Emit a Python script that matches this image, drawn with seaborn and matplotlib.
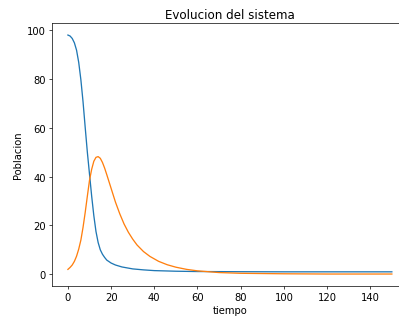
import matplotlib
matplotlib.use('Agg')
import matplotlib.pyplot as plt
import seaborn as sns
import pandas as pd

# valores
t_s = [0, 1, 2, 3, 4, 5, 6, 7, 8, 9, 10, 11, 12, 13, 14, 15, 16, 17, 18, 20,
       22, 25, 30, 35, 40, 50, 60, 80, 100, 150]
susceptibles = [98, 97.6, 96.6, 94.8, 91.8, 86.8, 79.7, 70.7, 60.2, 50, 41, 32, 24,
                17.5, 13, 10, 8.2, 6.9, 5.8, 4.6, 3.8, 3.0, 2.2, 1.8, 1.5, 1.25,
                1.12, 1.05, 1.0, 1.0]

t_i = [0, 1, 2, 3, 4, 5, 6, 7, 8, 9, 10, 11, 12, 13, 14, 15, 16, 17, 18, 19, 20,
       22, 24, 26, 28, 30, 32, 35, 38, 42, 46, 50, 55, 60, 70, 80, 100, 120, 150]
infectados = [2, 2.8, 3.8, 5.3, 7.4, 10.3, 14, 19.2, 25.3, 32, 38.5, 43, 46.3, 47.9,
              48.2, 47.5, 45.8, 43.5, 40.8, 38, 35.2, 29.6, 24.8, 20.6, 17.2, 14.4,
              12, 9.3, 7.3, 5.3, 3.9, 2.9, 2.0, 1.4, 0.7, 0.4, 0.2, 0.1, 0.1]

df_s = pd.DataFrame({'tiempo': t_s, 'Poblacion': susceptibles})
df_i = pd.DataFrame({'tiempo': t_i, 'Poblacion': infectados})

plt.rcParams['font.size'] = 11.5

fig = plt.figure(figsize=(6.4, 5.148), dpi=62.35)
ax = fig.add_axes([0.1296, 0.106, 0.893, 0.819])

sns.lineplot(data=df_s, x='tiempo', y='Poblacion', color='C0', ax=ax)
sns.lineplot(data=df_i, x='tiempo', y='Poblacion', color='C1', ax=ax)

ax.set_title('Evolucion del sistema')
ax.set_xlabel('tiempo')
ax.set_ylabel('Poblacion')

fig.savefig('out.png', dpi=62.35)
